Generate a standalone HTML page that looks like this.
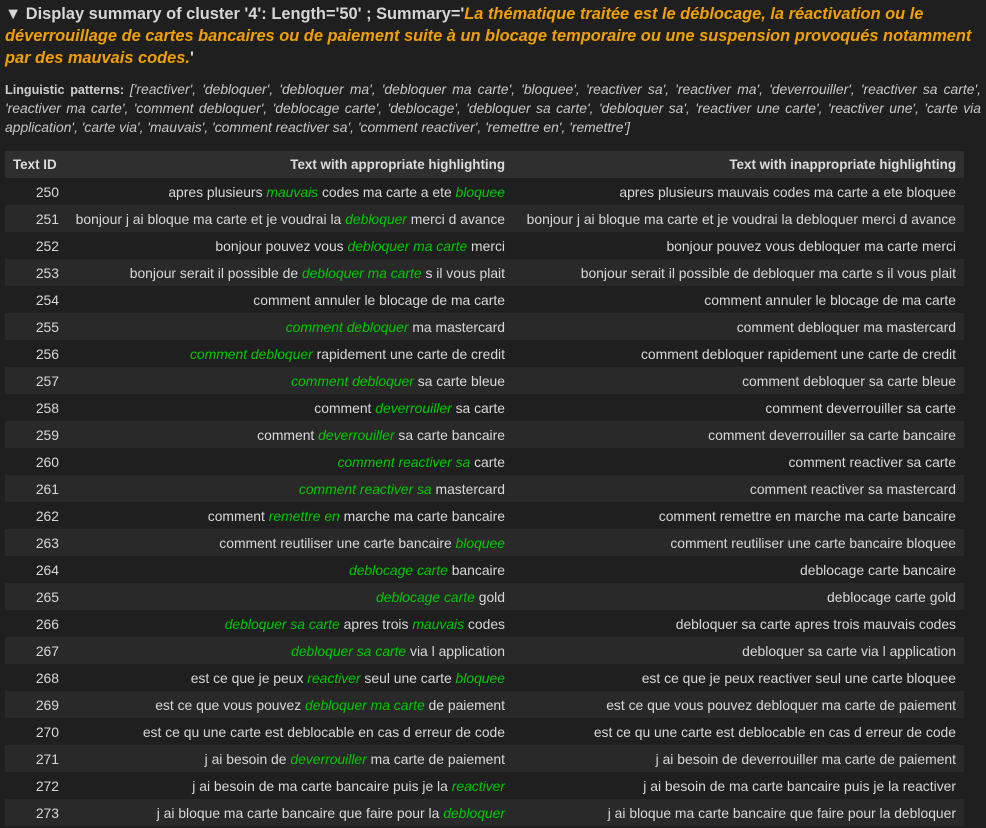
<!DOCTYPE html>
<html><head><meta charset="utf-8"><style>
body{margin:0;background:#1f1f1f;width:986px;height:828px;overflow:hidden;font-family:"Liberation Sans",sans-serif;color:#d4d4d4}
#title{position:absolute;left:5px;top:3px;width:978px;font-size:16.4px;font-weight:bold;line-height:22px;color:#d6d6d6}
#title i{color:#f0a000}
#pat{position:absolute;left:5px;top:80px;width:976px;font-size:12.6px;line-height:18px;text-align:justify;color:#cfcfcf}
#pat i{color:#c8c8c8;font-size:13.9px}
table{position:absolute;left:5px;top:151px;width:959px;border-collapse:collapse;font-size:13.9px}
th{background:#2f2f2f;height:27px;font-weight:bold;text-align:right;padding:0 8px;color:#dcdcdc;font-size:13.4px}
th:first-child{text-align:left}
td{height:27px;text-align:right;padding:0 8px;white-space:nowrap;color:#d8d8d8}
tr.o td{background:#292929}
tr.e td{background:#1f1f1f}
.h{color:#00c800;font-style:italic}
</style></head><body>
<div id="title">▼ Display summary of cluster '4': Length='50' ; Summary='<i>La thématique traitée est le déblocage, la réactivation ou le déverrouillage de cartes bancaires ou de paiement suite à un blocage temporaire ou une suspension provoqués notamment par des mauvais codes.</i>'</div>
<div id="pat"><b>Linguistic patterns:</b> <i>['reactiver', 'debloquer', 'debloquer ma', 'debloquer ma carte', 'bloquee', 'reactiver sa', 'reactiver ma', 'deverrouiller', 'reactiver sa carte', 'reactiver ma carte', 'comment debloquer', 'deblocage carte', 'deblocage', 'debloquer sa carte', 'debloquer sa', 'reactiver une carte', 'reactiver une', 'carte via application', 'carte via', 'mauvais', 'comment reactiver sa', 'comment reactiver', 'remettre en', 'remettre']</i></div>
<table>
<thead><tr><th style="width:46px">Text ID</th><th style="width:430px">Text with appropriate highlighting</th><th>Text with inappropriate highlighting</th></tr></thead>
<tbody id="tb"></tbody></table>
<script>
const ids=[250,251,252,253,254,255,256,257,258,259,260,261,262,263,264,265,266,267,268,269,270,271,272,273];
const texts=[
"apres plusieurs [mauvais] codes ma carte a ete [bloquee]",
"bonjour j ai bloque ma carte et je voudrai la [debloquer] merci d avance",
"bonjour pouvez vous [debloquer ma carte] merci",
"bonjour serait il possible de [debloquer ma carte] s il vous plait",
"comment annuler le blocage de ma carte",
"[comment debloquer] ma mastercard",
"[comment debloquer] rapidement une carte de credit",
"[comment debloquer] sa carte bleue",
"comment [deverrouiller] sa carte",
"comment [deverrouiller] sa carte bancaire",
"[comment reactiver sa] carte",
"[comment reactiver sa] mastercard",
"comment [remettre en] marche ma carte bancaire",
"comment reutiliser une carte bancaire [bloquee]",
"[deblocage carte] bancaire",
"[deblocage carte] gold",
"[debloquer sa carte] apres trois [mauvais] codes",
"[debloquer sa carte] via l application",
"est ce que je peux [reactiver] seul une carte [bloquee]",
"est ce que vous pouvez [debloquer ma carte] de paiement",
"est ce qu une carte est deblocable en cas d erreur de code",
"j ai besoin de [deverrouiller] ma carte de paiement",
"j ai besoin de ma carte bancaire puis je la [reactiver]",
"j ai bloque ma carte bancaire que faire pour la [debloquer]"];
const tb=document.getElementById('tb');
ids.forEach((id,i)=>{
 const tr=document.createElement('tr');
 tr.className=i%2?'o':'e';
 
 
 const hl=texts[i].replace(/\[([^\]]+)\]/g,'<span class="h">$1</span>');
 const pl=texts[i].replace(/[\[\]]/g,'');
 tr.innerHTML='<td>'+id+'</td><td>'+hl+'</td><td>'+pl+'</td>';
 tb.appendChild(tr);
});
</script>
</body></html>
